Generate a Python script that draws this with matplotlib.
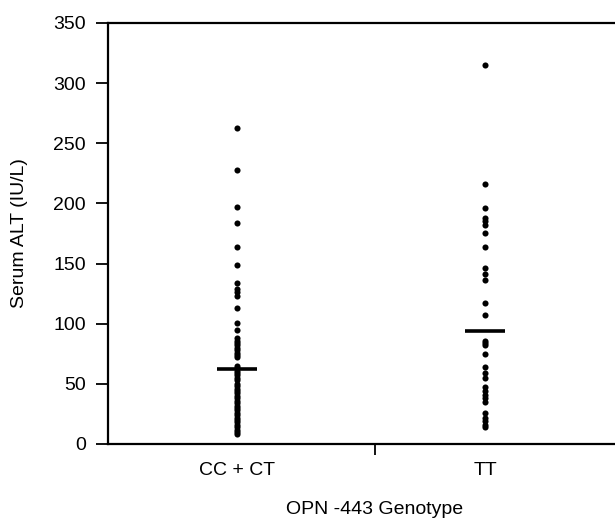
import matplotlib.pyplot as plt

plt.rcParams['font.family'] = ['Liberation Sans', 'DejaVu Sans']

groups = ["CC + CT", "TT"]
alt_cc_ct = [263, 228, 197, 184, 164, 149, 134, 129, 126, 123, 113, 101, 95,
             88, 86, 84, 82, 80, 78, 76, 74, 72, 65, 63, 61, 59, 57, 55, 53,
             50, 48, 46, 44, 42, 40, 38, 36, 34, 32, 30, 28, 26, 24, 22, 20,
             18, 16, 14, 12, 10, 8]
alt_tt = [315, 216, 196, 188, 185, 182, 175, 164, 146, 141, 136, 117, 107,
          86, 84, 82, 75, 64, 59, 55, 47, 44, 41, 38, 35, 26, 22, 19, 16, 14]
means = [62, 94]
yticks = [0, 50, 100, 150, 200, 250, 300, 350]

xpos = [0.483, 1.412]
fs = 14

fig = plt.figure(figsize=(6.15, 5.22), dpi=100)
ax = fig.add_axes([108 / 615, 78 / 522, 534 / 615, 421 / 522])

for x, vals in zip(xpos, [alt_cc_ct, alt_tt]):
    ax.plot([x] * len(vals), vals, 'o', color='black', markersize=4.4,
            markeredgewidth=0)
for x, m in zip(xpos, means):
    ax.plot([x - 0.075, x + 0.075], [m, m], color='black', lw=2.6,
            solid_capstyle='butt')

ax.set_xlim(0, 2)
ax.set_ylim(0, 350)
ax.set_yticks(yticks)
ax.tick_params(axis='y', direction='out', length=9, width=1.3, labelsize=fs,
               pad=7)

ax.set_xticks([1])
ax.set_xticklabels([''])
ax.tick_params(axis='x', which='major', direction='out', length=8, width=1.3)
ax.set_xticks(xpos, minor=True)
ax.set_xticklabels(groups, minor=True)
ax.tick_params(axis='x', which='minor', length=0, labelsize=fs, pad=13)

for side in ['left', 'bottom', 'top']:
    ax.spines[side].set_linewidth(1.6)
ax.spines['right'].set_visible(False)

ax.set_ylabel("Serum ALT (IU/L)", fontsize=fs)
ax.yaxis.set_label_coords(-0.15, 0.5)
ax.set_xlabel("OPN -443 Genotype", fontsize=fs)
ax.xaxis.set_label_coords(0.5, -0.135)

fig.savefig("out.png", dpi=100)
